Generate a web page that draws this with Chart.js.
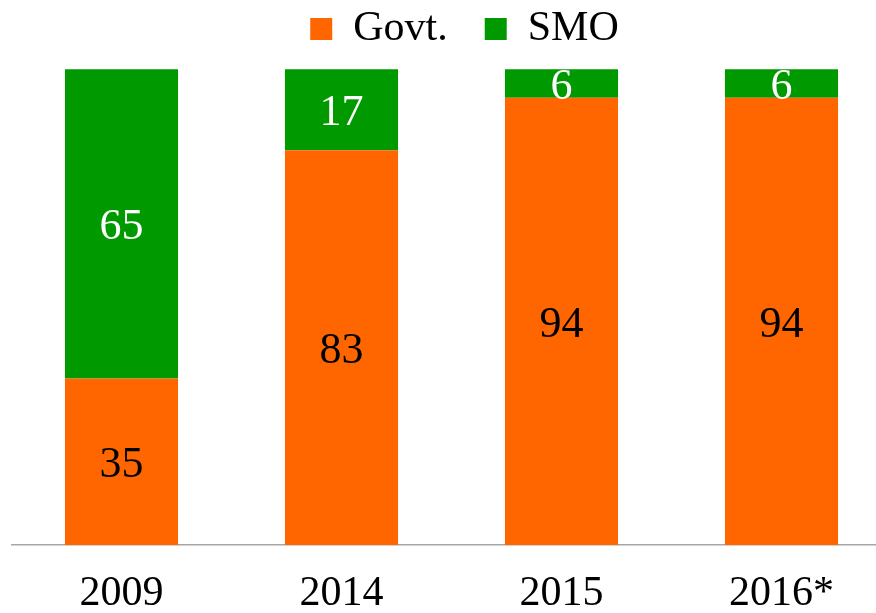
<!DOCTYPE html>
<html>
<head>
<meta charset="utf-8">
<script src="https://cdn.jsdelivr.net/npm/chart.js@4"></script>
<style>
  html, body { margin: 0; padding: 0; background: #fff; overflow: hidden; }
  #wrap { width: 930px; height: 613px; }
</style>
</head>
<body>
<div id="wrap"><canvas id="chart"></canvas></div>
<script>
// Data dari gambar (persen)
const years = ['2009', '2014', '2015', '2016*'];
const govt = [35, 83, 94, 94];
const smo = [65, 17, 6, 6];

const serif = '"Liberation Serif", "DejaVu Serif", serif';

// Plugin untuk menulis angka di tengah batang
const barLabels = {
  id: 'barLabels',
  afterDatasetsDraw(chart) {
    const ctx = chart.ctx;
    ctx.save();
    ctx.font = '44px ' + serif;
    ctx.textAlign = 'center';
    ctx.textBaseline = 'middle';
    chart.data.datasets.forEach((ds, i) => {
      const meta = chart.getDatasetMeta(i);
      meta.data.forEach((bar, j) => {
        const cy = (bar.y + bar.base) / 2;
        ctx.fillStyle = ds.labelColor;
        ctx.fillText(String(ds.data[j]), bar.x, cy + 4);
      });
    });
    ctx.restore();
  }
};

new Chart(document.getElementById('chart'), {
  type: 'bar',
  data: {
    labels: years,
    datasets: [
      { label: 'Govt.', data: govt, backgroundColor: '#FF6600', labelColor: '#000000' },
      { label: 'SMO', data: smo, backgroundColor: '#009900', labelColor: '#FFFFFF' }
    ]
  },
  options: {
    responsive: true,
    maintainAspectRatio: false,
    animation: false,
    layout: { padding: { left: 11.5, right: 12.5, top: -29, bottom: -30 } },
    datasets: { bar: { barPercentage: 1, categoryPercentage: 0.514 } },
    plugins: {
      tooltip: { enabled: false },
      legend: {
        position: 'top',
        labels: {
          font: { family: serif, size: 42 },
          color: '#000',
          boxWidth: 22,
          boxHeight: 22,
          padding: 37
        }
      }
    },
    scales: {
      x: {
        stacked: true,
        grid: { display: false, drawTicks: false },
        border: { display: true, color: '#A6A6A6', width: 1.5 },
        ticks: {
          color: '#000',
          padding: 28,
          font: { family: serif, size: 42, lineHeight: 1 }
        }
      },
      y: {
        stacked: true,
        position: 'right',
        min: 0,
        max: 101.96,
        grid: { display: false },
        border: { display: false },
        ticks: { display: false },
        // ruang kosong di kanan supaya legenda bergeser seperti aslinya
        afterFit(scale) { scale.width = 26; }
      }
    }
  },
  plugins: [barLabels]
});
</script>
</body>
</html>
